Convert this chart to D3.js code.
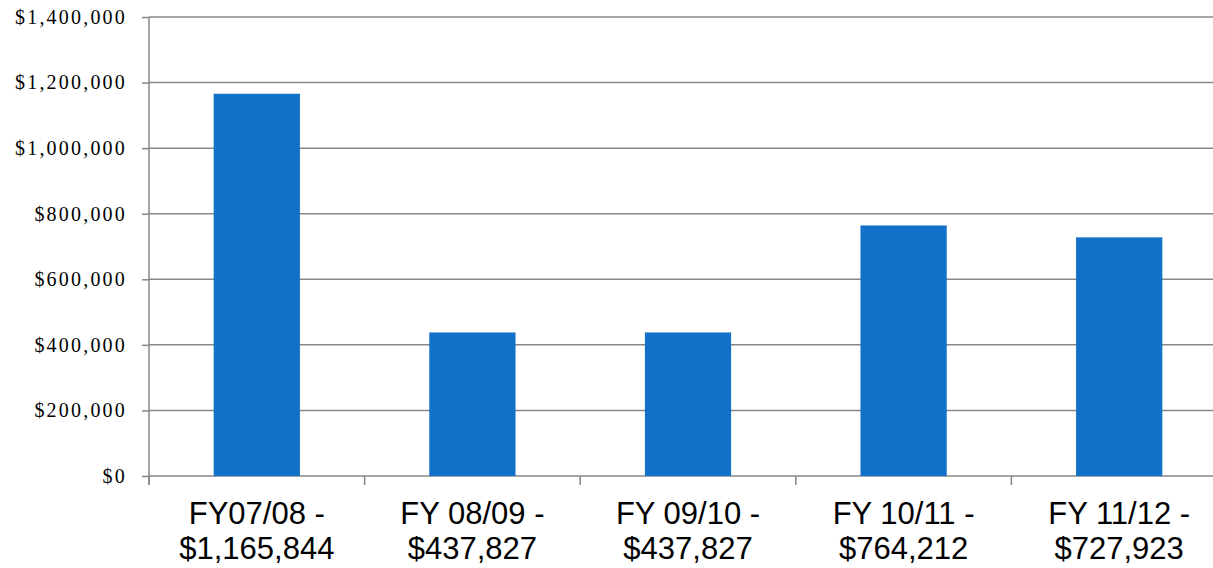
<!DOCTYPE html>
<html><head><meta charset="utf-8">
<script src="https://cdn.jsdelivr.net/npm/d3@7"></script>
<style>body{margin:0;background:#fff;}svg{display:block;}</style>
</head><body>
<svg id="chart" width="1213" height="568"></svg>
<script>
const categories = ["FY07/08 -|$1,165,844","FY 08/09 -|$437,827","FY 09/10 -|$437,827","FY 10/11 -|$764,212","FY 11/12 -|$727,923"];
const values = [1165844, 437827, 437827, 764212, 727923];
const yTicks = [0,200000,400000,600000,800000,1000000,1200000,1400000];

(function(){
const svg = d3.select("#chart");
const mL = 149, mR = 1227, mT = 17, mB = 476;
const x = d3.scaleBand().domain(categories).range([mL, mR]).paddingInner(0).paddingOuter(0);
const y = d3.scaleLinear().domain([0,1400000]).range([mB, mT]);
const gridColor = "#878787";

svg.append("g").selectAll("line").data(yTicks).join("line")
  .attr("x1", mL).attr("x2", 1213)
  .attr("y1", d=>y(d)).attr("y2", d=>y(d))
  .attr("stroke", gridColor).attr("stroke-width", 1.5);

const bw = x.bandwidth()*0.4;
svg.append("g").selectAll("rect").data(values).join("rect")
  .attr("x", (d,i)=>x(categories[i]) + x.bandwidth()/2 - bw/2)
  .attr("width", bw)
  .attr("y", d=>y(d))
  .attr("height", d=>mB - y(d))
  .attr("fill", "#1170C8");

const yAxis = d3.axisLeft(y).tickValues(yTicks).tickSize(7).tickPadding(15)
  .tickFormat(d=>"$"+d3.format(",")(d));
const gy = svg.append("g").attr("transform", `translate(${mL},0)`).call(yAxis);
gy.select(".domain").remove();
gy.selectAll(".tick line").attr("stroke", gridColor).attr("stroke-width", 1.5);
gy.selectAll(".tick text").attr("fill","#000").attr("font-family","'Liberation Serif', 'Times New Roman', serif")
  .attr("font-size", 20).attr("letter-spacing", "2.2px").attr("dy","0.32em");
svg.append("line").attr("x1",mL).attr("x2",mL).attr("y1",mT).attr("y2",mB+9)
  .attr("stroke",gridColor).attr("stroke-width",1.5);

const bounds = categories.map(c=>x(c)).concat([mR]);
svg.append("g").selectAll("line").data(bounds).join("line")
  .attr("x1", d=>d).attr("x2", d=>d).attr("y1", mB).attr("y2", mB+9)
  .attr("stroke", gridColor).attr("stroke-width", 1.5);

const xl = svg.append("g").selectAll("text").data(categories).join("text")
  .attr("text-anchor","middle")
  .attr("font-family","'Liberation Sans', Arial, sans-serif")
  .attr("font-size", 31).attr("fill","#000");
xl.each(function(d){
  const parts = d.split("|");
  const t = d3.select(this);
  const cx = x(d)+x.bandwidth()/2;
  t.append("tspan").attr("x", cx).attr("y", 524).text(parts[0]);
  t.append("tspan").attr("x", cx).attr("y", 559).text(parts[1]);
});
})();
</script>
</body></html>
